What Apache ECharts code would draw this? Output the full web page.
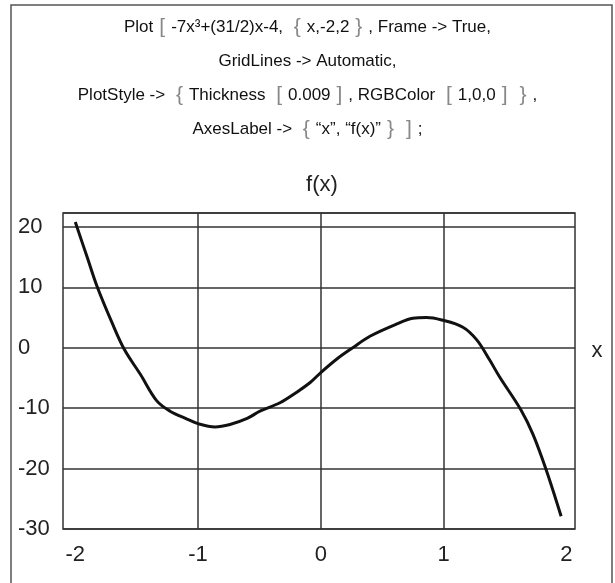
<!DOCTYPE html>
<html>
<head>
<meta charset="utf-8">
<script src="https://cdn.jsdelivr.net/npm/echarts@6/dist/echarts.min.js"></script>
<style>
  html, body { margin: 0; padding: 0; background: #fff; }
  #plot { width: 615px; height: 583px; }
</style>
</head>
<body>
<div id="plot"></div>
<script>
// curve points (x, f(x))
const xs = [-2.0, -1.9, -1.82, -1.7, -1.6, -1.47, -1.336, -1.228, -1.09, -0.995, -0.862, -0.74, -0.6, -0.496,
  -0.333, -0.2, -0.089, 0, 0.128, 0.263, 0.40, 0.615, 0.75, 0.86, 0.984, 1.157, 1.27, 1.374, 1.455, 1.63, 1.727, 1.835, 1.957];
const ys = [20.8, 14.8, 10.0, 4.1, -0.3, -4.4, -8.8, -10.5, -11.8, -12.6, -13.1, -12.7, -11.7, -10.5,
  -9.1, -7.4, -5.8, -4.1, -1.9, 0.05, 1.9, 3.9, 4.87, 5.0, 4.6, 3.4, 1.3, -2.0, -4.8, -10.3, -14.3, -20.2, -27.9];
const xTicks = [-2, -1, 0, 1, 2];
const xGridTicks = [-1, 0, 1];

const font = 'Liberation Sans, Arial, sans-serif';

// rich text helpers: t = normal text, b = thin grey bracket, closing brace uses default style
const T = s => '{t|' + s + '}';
const B = c => '{b|' + c + '}';
const CB = '{s| }}{s| }';

const codeLines = [
  T('Plot') + B('[') + T('-7x³+(31/2)x-4, ') + B('{') + T('x,-2,2') + CB + T(', Frame -> True,'),
  T('GridLines -> Automatic,'),
  T('PlotStyle -> ') + B('{') + T('Thickness ') + B('[') + T('0.009') + B(']') + T(', RGBColor ') + B('[') + T('1,0,0') + B(']') + CB + T(','),
  T('AxesLabel -> ') + B('{') + T('“x”, “f(x)”') + CB + B(']') + T(';')
];

const myChart = echarts.init(document.getElementById('plot'));

const option = {
  animation: false,
  backgroundColor: '#fff',
  title: {
    left: 'center',
    top: 5,
    text: codeLines.join('\n'),
    textStyle: {
      fontFamily: font,
      fontSize: 21,
      fontWeight: 'normal',
      color: '#888',
      lineHeight: 34,
      rich: {
        t: { color: '#111', fontSize: 17, fontFamily: font, lineHeight: 34 },
        b: { color: '#888', fontSize: 21, fontFamily: font, lineHeight: 34, padding: [0, 6] },
        s: { fontSize: 17, width: 6, lineHeight: 34 }
      }
    }
  },
  grid: {
    left: 63,
    right: 40,
    top: 213,
    bottom: 54,
    show: true,
    borderColor: '#333',
    borderWidth: 1.5,
    backgroundColor: 'transparent'
  },
  xAxis: {
    type: 'value',
    min: -2.1,
    max: 2.07,
    axisLine: { show: false },
    axisTick: { show: false, customValues: xGridTicks },
    axisLabel: {
      customValues: xTicks,
      margin: 15,
      fontFamily: font,
      fontSize: 22,
      color: '#222'
    },
    splitLine: { show: true, lineStyle: { color: '#333', width: 1.5 } }
  },
  yAxis: {
    type: 'value',
    min: -30,
    max: 22.3,
    interval: 10,
    axisLine: { show: false },
    axisTick: { show: false },
    axisLabel: {
      showMaxLabel: false,
      align: 'left',
      margin: 45,
      fontFamily: font,
      fontSize: 22,
      color: '#222'
    },
    splitLine: { show: true, lineStyle: { color: '#333', width: 1.5 } }
  },
  graphic: [
    {
      type: 'rect',
      shape: { x: 11, y: 5, width: 601, height: 620 },
      style: { fill: 'none', stroke: '#555', lineWidth: 1.5 },
      silent: true
    },
    {
      type: 'text',
      x: 322,
      y: 185,
      style: { text: 'f(x)', fontFamily: font, fontSize: 22, fill: '#222', textAlign: 'center', textVerticalAlign: 'middle' }
    },
    {
      type: 'text',
      x: 597,
      y: 351,
      style: { text: 'x', fontFamily: font, fontSize: 22, fill: '#222', textAlign: 'center', textVerticalAlign: 'middle' }
    }
  ],
  series: [
    {
      type: 'line',
      data: xs.map((x, i) => [x, ys[i]]),
      smooth: 0.35,
      symbol: 'none',
      lineStyle: { color: '#111', width: 3 }
    }
  ]
};

myChart.setOption(option);
</script>
</body>
</html>
